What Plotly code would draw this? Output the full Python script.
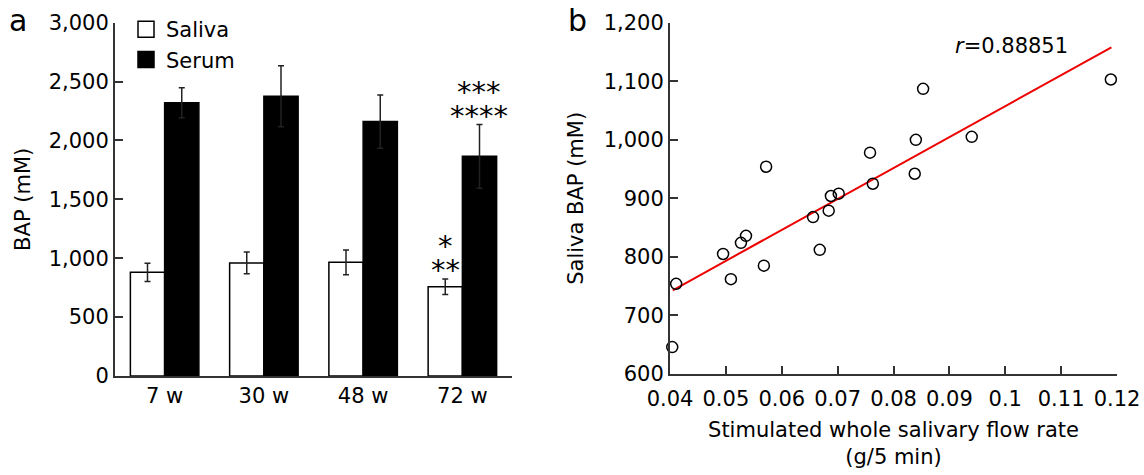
import plotly.graph_objects as go

# ---- data ----
ages = ["7 w", "30 w", "48 w", "72 w"]
saliva_mean = [880, 960, 965, 758]
saliva_err = [78, 92, 105, 65]
serum_mean = [2320, 2375, 2160, 1865]
serum_err = [127, 259, 227, 270]
saliva_marks = [[], [], [], ["**", "*"]]
serum_marks = [[], [], [], ["****", "***"]]

flow = [0.0404, 0.0411, 0.0495, 0.0509, 0.0527, 0.0536, 0.0568, 0.0572, 0.0656, 0.0668,
        0.0684, 0.0688, 0.0702, 0.0758, 0.0763, 0.0838, 0.0840, 0.0853, 0.0940, 0.1189]
bap = [646, 754, 805, 762, 824, 836, 785, 954, 868, 812,
       879, 904, 908, 978, 925, 942, 1000, 1087, 1005, 1103]
fit_x = [0.0405, 0.119]
fit_y = [743, 1158]
r_text = "<i>r</i>=0.88851"

FONT = "Verdana, DejaVu Sans, sans-serif"
AX = "#333333"
FS = 21

fig = go.Figure()

fig.add_trace(go.Bar(x=ages, y=saliva_mean, name="Saliva",
                     marker=dict(color="white", line=dict(color="black", width=1.5)),
                     error_y=dict(type="data", array=saliva_err, color="#222", thickness=1.5, width=3),
                     showlegend=False, xaxis="x", yaxis="y"))
fig.add_trace(go.Bar(x=ages, y=serum_mean, name="Serum",
                     marker=dict(color="black", line=dict(color="black", width=1.5)),
                     error_y=dict(type="data", array=serum_err, color="#222", thickness=1.5, width=3),
                     showlegend=False, xaxis="x", yaxis="y"))

# legend proxies
fig.add_trace(go.Scatter(x=[None], y=[None], mode="markers", name="Saliva",
                         marker=dict(symbol="square", size=16, color="white",
                                     line=dict(color="black", width=1.5)),
                         xaxis="x2", yaxis="y2"))
fig.add_trace(go.Scatter(x=[None], y=[None], mode="markers", name="Serum",
                         marker=dict(symbol="square", size=16, color="black",
                                     line=dict(color="black", width=1.5)),
                         xaxis="x2", yaxis="y2"))

fig.add_trace(go.Scatter(x=fit_x, y=fit_y, mode="lines", line=dict(color="#ee0000", width=2),
                         showlegend=False, xaxis="x2", yaxis="y2"))
fig.add_trace(go.Scatter(x=flow, y=bap, mode="markers",
                         marker=dict(symbol="circle-open", size=11, color="black",
                                     line=dict(width=1.5)),
                         showlegend=False, cliponaxis=False, xaxis="x2", yaxis="y2"))

annotations = []
STAR_GAP = 24
for i, marks in enumerate(saliva_marks):
    for k, m in enumerate(marks):
        annotations.append(dict(x=i - 0.172, y=saliva_mean[i] + saliva_err[i], xref="x", yref="y",
                                text=m, showarrow=False, yanchor="middle", yshift=9 + k * STAR_GAP,
                                font=dict(size=29, family=FONT, color="black")))
for i, marks in enumerate(serum_marks):
    for k, m in enumerate(marks):
        annotations.append(dict(x=i + 0.172, y=serum_mean[i] + serum_err[i], xref="x", yref="y",
                                text=m, showarrow=False, yanchor="middle", yshift=9 + k * STAR_GAP,
                                font=dict(size=29, family=FONT, color="black")))

annotations += [
    dict(x=18 / 1144, y=1 - 20 / 475, xref="paper", yref="paper", text="a", showarrow=False,
         xanchor="center", yanchor="middle", font=dict(size=30, family=FONT, color="black")),
    dict(x=577 / 1144, y=1 - 20 / 475, xref="paper", yref="paper", text="b", showarrow=False,
         xanchor="center", yanchor="middle", font=dict(size=30, family=FONT, color="black")),
    dict(x=0.1011, y=1160, xref="x2", yref="y2", text=r_text, showarrow=False,
         xanchor="center", yanchor="middle", font=dict(size=FS, family=FONT, color="black")),
]

common = dict(showline=True, linecolor=AX, linewidth=2, showgrid=False, zeroline=False,
              automargin=False, tickfont=dict(size=FS))

fig.update_layout(
    width=1144, height=475,
    margin=dict(l=0, r=0, t=0, b=0),
    paper_bgcolor="white", plot_bgcolor="white",
    font=dict(family=FONT, size=FS, color="black"),
    barmode="group", bargap=0.31, bargroupgap=0,
    annotations=annotations,
    legend=dict(x=126 / 1144, y=1 - 9 / 475, xanchor="left", yanchor="top",
                bgcolor="rgba(0,0,0,0)", font=dict(size=FS, family=FONT),
                tracegroupgap=0, itemwidth=30),
    xaxis=dict(domain=[115 / 1144, 512 / 1144], anchor="y", type="category",
               range=[-0.5, 3.5], ticks="", **common),
    yaxis=dict(domain=[1 - 376 / 475, 1 - 22.7 / 475], anchor="x", range=[0, 3000],
               tickvals=[0, 500, 1000, 1500, 2000, 2500, 3000], tickformat=",",
               ticks="inside", ticklen=8, tickcolor=AX, tickwidth=2,
               title=dict(text="BAP (mM)", standoff=12, font=dict(size=FS)), **common),
    xaxis2=dict(domain=[670 / 1144, 1117 / 1144], anchor="y2", range=[0.04, 0.12],
                tickvals=[0.04, 0.05, 0.06, 0.07, 0.08, 0.09, 0.1, 0.11, 0.12],
                ticktext=["0.04", "0.05", "0.06", "0.07", "0.08", "0.09", "0.1", "0.11", "0.12"],
                ticks="inside", ticklen=8, tickcolor=AX, tickwidth=2, ticklabelstandoff=5,
                title=dict(text="Stimulated whole salivary flow rate<br>(g/5 min)", standoff=12,
                           font=dict(size=FS)), **common),
    yaxis2=dict(domain=[1 - 374 / 475, 1 - 22.7 / 475], anchor="x2", range=[600, 1200],
                tickvals=[600, 700, 800, 900, 1000, 1100, 1200], tickformat=",",
                ticks="inside", ticklen=8, tickcolor=AX, tickwidth=2,
                title=dict(text="Saliva BAP (mM)", standoff=14, font=dict(size=FS)), **common),
)

fig.write_html("out.html", config={"displayModeBar": False},
               post_script="document.body.style.margin='0';")
